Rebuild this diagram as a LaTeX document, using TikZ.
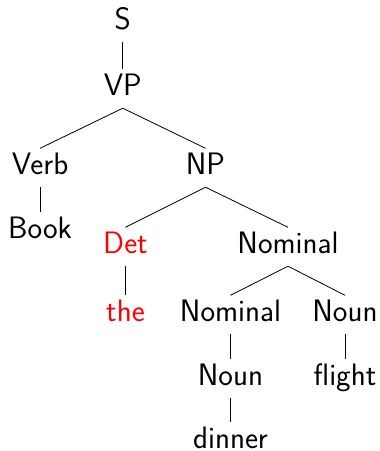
\documentclass[tikz,border=0pt]{standalone}
\begin{document}
\begin{tikzpicture}[x=1pt,y=-1pt,
  lab/.style={font=\sffamily\fontsize{31}{37}\selectfont, anchor=base,
    text height=19.5pt, text depth=7pt, inner sep=6pt},
  hl/.style={lab, text=red},
  edge/.style={line width=0.8pt}]
\useasboundingbox (0,0) rectangle (380,451);
\node[lab] (S) at (122.8,29) {S};
\node[lab] (VP) at (122.8,95) {VP};
\node[lab] (Verb) at (40,174) {Verb};
\node[lab] (NP) at (205.5,174) {NP};
\node[lab] (Book) at (40,238) {Book};
\node[hl] (Det) at (125.5,253) {Det};
\node[lab] (Nom1) at (288,253) {Nominal};
\node[hl] (the) at (125.5,321) {the};
\node[lab] (Nom2) at (230.5,321) {Nominal};
\node[lab] (Noun1) at (345,321) {Noun};
\node[lab] (Noun2) at (230.5,385) {Noun};
\node[lab] (flight) at (345,385) {flight};
\node[lab] (dinner) at (230.5,448) {dinner};
\draw[edge] (S.south) -- (VP.north);
\draw[edge] (VP.south) -- (Verb.north);
\draw[edge] (VP.south) -- (NP.north);
\draw[edge] (Verb.south) -- (Book.north);
\draw[edge] (NP.south) -- (Det.north);
\draw[edge] (NP.south) -- (Nom1.north);
\draw[edge] (Det.south) -- (the.north);
\draw[edge] (Nom1.south) -- (Nom2.north);
\draw[edge] (Nom1.south) -- (Noun1.north);
\draw[edge] (Nom2.south) -- (Noun2.north);
\draw[edge] (Noun1.south) -- (flight.north);
\draw[edge] (Noun2.south) -- (dinner.north);
\end{tikzpicture}
\end{document}
